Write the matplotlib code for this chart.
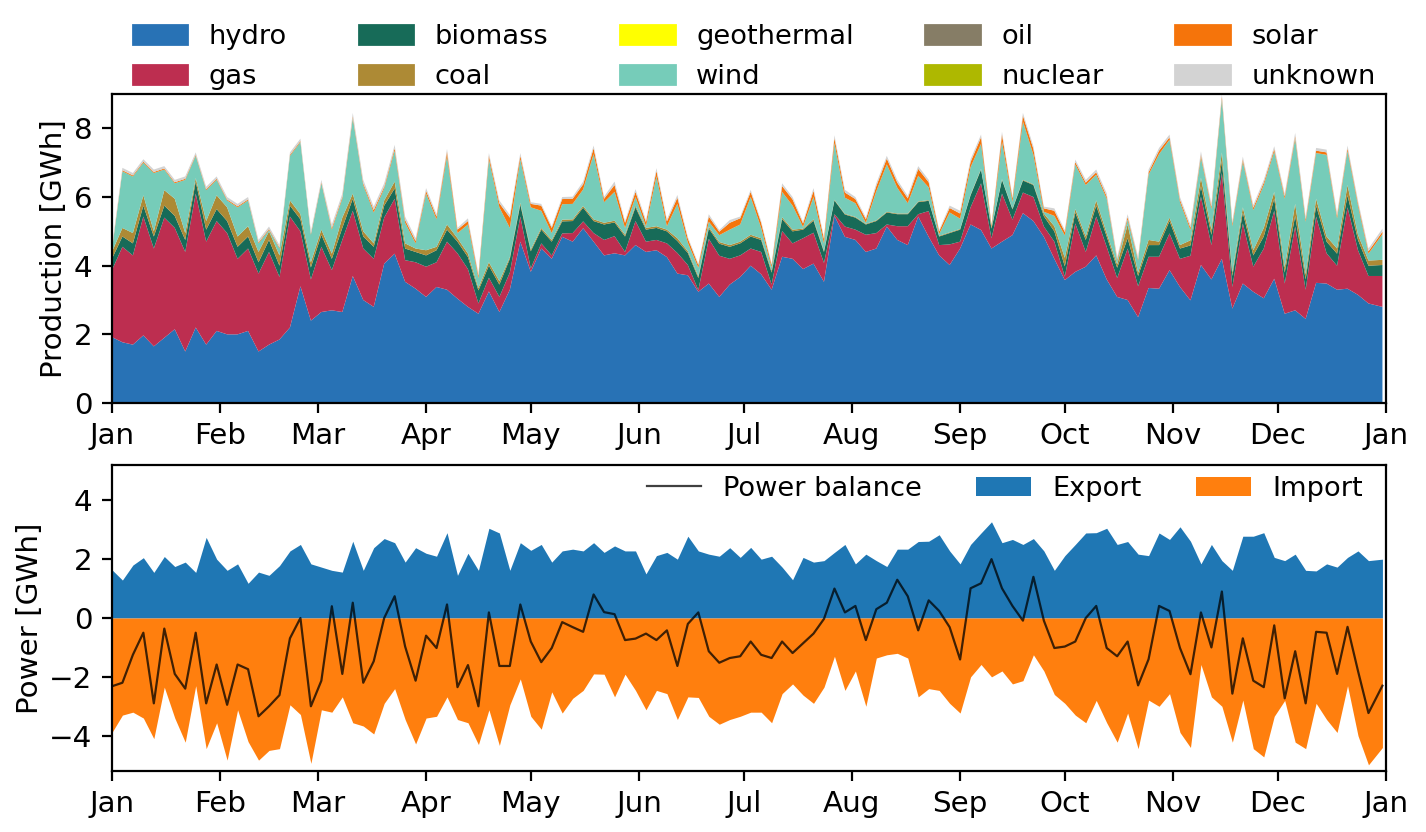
"""Daily electricity production mix and cross-border power balance."""

import datetime as dt
import numpy as np
import matplotlib
matplotlib.use("Agg")
import matplotlib.pyplot as plt
import matplotlib.dates as mdates
from matplotlib.patches import Patch

plt.rcParams.update({
    "font.family": "DejaVu Sans",
    "font.size": 10.6,
    "legend.fontsize": 9.8,
    "axes.linewidth": 0.8,
})

YEAR_START = dt.date(2019, 1, 1)
YEAR_END = dt.date(2020, 1, 1)
# sampled every third day of the year, last sample on 31 Dec
DAY_OFFSETS = list(range(0, 361, 3)) + [364]

# ---- production by source [GWh] ----
HYDRO = [1.92, 1.77, 1.70, 1.97, 1.65, 1.90, 2.15, 1.50, 2.20, 1.70, 2.10, 2.00, 2.00, 2.10, 1.50, 1.70,
         1.85, 2.20, 3.40, 2.40, 2.65, 2.70, 2.65, 3.70, 3.00, 2.80, 4.06, 4.35, 3.53, 3.33, 3.09,
         3.38, 3.30, 3.04, 2.80, 2.60, 3.25, 2.65, 3.30, 4.70, 3.82, 4.50, 4.20, 4.84, 4.70, 5.09,
         4.70, 4.30, 4.36, 4.30, 4.60, 4.40, 4.45, 4.25, 3.77, 3.72, 3.24, 3.48, 3.09, 3.45, 3.67,
         4.00, 3.75, 3.30, 4.26, 4.20, 3.90, 4.06, 3.53, 5.45, 4.84, 4.75, 4.40, 4.50, 5.14, 4.75,
         4.60, 5.43, 4.84, 4.30, 4.02, 4.50, 5.20, 5.04, 4.50, 4.70, 4.89, 5.53, 5.30, 4.84, 4.20, 3.58,
         3.82, 3.97, 4.30, 3.60, 3.09, 3.00, 2.50, 3.35, 3.33, 3.87, 3.38, 2.99, 4.02, 3.60, 4.20,
         2.75, 3.48, 3.24, 3.05, 3.62, 2.60, 2.70, 2.45, 3.50, 3.48, 3.30, 3.33, 3.15, 2.90, 2.80]
GAS = [1.95, 2.78, 2.60, 3.46, 2.85, 3.50, 2.95, 2.90, 3.90, 3.00, 3.20, 2.95, 2.20, 2.40, 2.27, 2.70,
       1.82, 3.23, 1.60, 1.20, 1.90, 1.17, 2.10, 1.90, 1.50, 1.40, 1.34, 1.60, 0.63, 0.77, 0.88,
       0.72, 1.40, 1.32, 1.10, 0.30, 0.40, 0.44, 0.50, 0.73, 0.10, 0.15, 0.10, 0.10, 0.25, 0.20,
       0.25, 0.45, 0.50, 0.10, 0.70, 0.30, 0.30, 0.40, 0.60, 0.30, 0.05, 1.30, 1.20, 0.75, 0.63,
       0.50, 0.65, 0.15, 0.75, 0.45, 0.90, 0.90, 0.55, 0.05, 0.30, 0.30, 0.50, 0.45, 0.06, 0.40,
       0.55, 0.07, 0.75, 0.30, 0.60, 0.20, 0.50, 1.36, 0.30, 1.40, 0.45, 0.60, 0.70, 0.30, 0.50, 0.10,
       1.41, 0.43, 1.13, 0.95, 0.55, 1.50, 0.90, 0.91, 0.93, 1.07, 0.82, 1.30, 1.99, 1.00, 2.50,
       0.63, 1.75, 0.73, 1.45, 1.98, 0.88, 2.44, 0.85, 1.93, 0.88, 0.70, 2.37, 1.30, 0.80, 0.90]
BIOMASS = [0.33, 0.30, 0.35, 0.32, 0.35, 0.35, 0.35, 0.35, 0.35, 0.35, 0.35, 0.35, 0.35, 0.35, 0.33, 0.35,
           0.33, 0.32, 0.35, 0.35, 0.35, 0.33, 0.35, 0.35, 0.35, 0.35, 0.35, 0.30, 0.34, 0.30, 0.33,
           0.35, 0.35, 0.34, 0.35, 0.38, 0.35, 0.36, 0.40, 0.35, 0.50, 0.40, 0.40, 0.35, 0.35, 0.40,
           0.35, 0.45, 0.40, 0.45, 0.40, 0.35, 0.35, 0.35, 0.35, 0.35, 0.35, 0.30, 0.35, 0.35, 0.35,
           0.35, 0.35, 0.35, 0.35, 0.35, 0.25, 0.35, 0.32, 0.40, 0.35, 0.35, 0.30, 0.35, 0.35, 0.35,
           0.35, 0.35, 0.30, 0.25, 0.33, 0.35, 0.35, 0.40, 0.28, 0.40, 0.30, 0.35, 0.35, 0.30, 0.30, 0.30,
           0.32, 0.35, 0.32, 0.30, 0.30, 0.30, 0.30, 0.34, 0.34, 0.36, 0.30, 0.30, 0.30, 0.30, 0.35,
           0.32, 0.32, 0.33, 0.35, 0.35, 0.32, 0.31, 0.30, 0.32, 0.34, 0.35, 0.35, 0.30, 0.30, 0.32]
COAL = [0.20, 0.25, 0.30, 0.30, 0.15, 0.45, 0.50, 0.20, 0.10, 0.25, 0.40, 0.40, 0.30, 0.30, 0.30, 0.25,
        0.30, 0.15, 0.15, 0.15, 0.15, 0.15, 0.30, 0.15, 0.15, 0.10, 0.15, 0.20, 0.15, 0.10, 0.15,
        0.10, 0.15, 0.10, 0.10, 0.07, 0.10, 0.10, 0.05, 0.05, 0.05, 0.05, 0.05, 0.05, 0.05, 0.05,
        0.05, 0.05, 0.05, 0.05, 0.05, 0.05, 0.05, 0.05, 0.08, 0.05, 0.05, 0.05, 0.05, 0.05, 0.05,
        0.05, 0.05, 0.05, 0.05, 0.05, 0.03, 0.04, 0.03, 0.02, 0.02, 0.02, 0.02, 0.02, 0.02, 0.02,
        0.02, 0.02, 0.02, 0.02, 0.02, 0.02, 0.02, 0.02, 0.02, 0.02, 0.02, 0.02, 0.02, 0.08, 0.15, 0.25,
        0.10, 0.10, 0.15, 0.10, 0.10, 0.40, 0.10, 0.15, 0.10, 0.10, 0.10, 0.15, 0.25, 0.15, 0.25,
        0.10, 0.15, 0.15, 0.25, 0.20, 0.15, 0.35, 0.15, 0.20, 0.15, 0.15, 0.30, 0.15, 0.15, 0.15]
WIND = [0.05, 1.65, 1.65, 0.95, 1.70, 0.60, 0.45, 1.55, 0.65, 0.90, 0.45, 0.20, 0.85, 0.75, 0.25, 0.04,
        0.20, 1.30, 2.10, 0.80, 1.35, 0.70, 0.55, 2.20, 1.35, 0.90, 0.35, 0.90, 0.60, 0.15, 1.65,
        0.80, 2.00, 0.15, 0.85, 0.28, 3.00, 2.15, 0.85, 1.27, 1.23, 0.50, 0.20, 0.45, 0.45, 0.48,
        1.90, 0.60, 0.84, 0.20, 0.25, 0.05, 1.45, 0.10, 1.00, 0.25, 0.25, 0.15, 0.20, 0.45, 0.50,
        1.10, 0.30, 0.10, 0.74, 0.70, 0.05, 0.65, 0.22, 1.65, 0.47, 0.40, 0.03, 0.85, 1.38, 0.75,
        0.30, 0.75, 0.37, 0.05, 0.58, 0.30, 0.80, 0.73, 0.00, 1.10, 0.20, 1.70, 0.86, 0.05, 0.30, 0.65,
        1.30, 1.50, 0.75, 1.00, 0.10, 0.15, 0.35, 1.90, 2.55, 2.27, 1.25, 0.30, 0.60, 0.60, 1.55,
        1.35, 1.33, 1.17, 1.25, 1.18, 2.00, 1.90, 1.53, 1.33, 2.38, 0.88, 1.00, 0.85, 0.20, 0.75]
SOLAR = [0.03, 0.03, 0.03, 0.03, 0.03, 0.03, 0.03, 0.03, 0.03, 0.03, 0.03, 0.03, 0.03, 0.03, 0.03, 0.03,
         0.03, 0.03, 0.03, 0.03, 0.03, 0.05, 0.05, 0.05, 0.05, 0.07, 0.05, 0.07, 0.08, 0.07, 0.08,
         0.08, 0.12, 0.10, 0.10, 0.08, 0.10, 0.12, 0.30, 0.10, 0.10, 0.15, 0.15, 0.15, 0.15, 0.15,
         0.17, 0.10, 0.20, 0.15, 0.15, 0.12, 0.16, 0.14, 0.18, 0.12, 0.08, 0.15, 0.10, 0.20, 0.18,
         0.15, 0.15, 0.07, 0.17, 0.18, 0.10, 0.18, 0.13, 0.15, 0.15, 0.12, 0.10, 0.15, 0.17, 0.15,
         0.14, 0.20, 0.15, 0.08, 0.13, 0.15, 0.15, 0.19, 0.07, 0.20, 0.10, 0.17, 0.17, 0.10, 0.15, 0.10,
         0.07, 0.07, 0.07, 0.07, 0.05, 0.07, 0.04, 0.07, 0.10, 0.07, 0.07, 0.07, 0.07, 0.07, 0.07,
         0.07, 0.07, 0.07, 0.07, 0.07, 0.07, 0.07, 0.07, 0.07, 0.07, 0.07, 0.07, 0.07, 0.07, 0.07]
UNKNOWN = [0.07, 0.07, 0.07, 0.07, 0.07, 0.07, 0.07, 0.07, 0.07, 0.07, 0.07, 0.07, 0.07, 0.07, 0.07, 0.07,
           0.07, 0.07, 0.07, 0.07, 0.07, 0.10, 0.10, 0.10, 0.10, 0.10, 0.10, 0.10, 0.10, 0.08, 0.08,
           0.07, 0.08, 0.05, 0.08, 0.06, 0.08, 0.08, 0.08, 0.08, 0.05, 0.05, 0.05, 0.06, 0.06, 0.08,
           0.08, 0.06, 0.10, 0.05, 0.08, 0.06, 0.08, 0.06, 0.08, 0.05, 0.04, 0.07, 0.05, 0.08, 0.05,
           0.06, 0.05, 0.04, 0.08, 0.07, 0.05, 0.08, 0.06, 0.08, 0.08, 0.06, 0.05, 0.08, 0.08, 0.08,
           0.07, 0.08, 0.07, 0.04, 0.07, 0.08, 0.08, 0.08, 0.03, 0.08, 0.05, 0.08, 0.08, 0.05, 0.07, 0.06,
           0.07, 0.08, 0.08, 0.09, 0.07, 0.08, 0.07, 0.08, 0.08, 0.08, 0.08, 0.08, 0.10, 0.08, 0.08,
           0.08, 0.08, 0.08, 0.08, 0.08, 0.08, 0.10, 0.08, 0.08, 0.08, 0.08, 0.08, 0.08, 0.08, 0.09]

# ---- cross-border exchange [GWh] ----
EXPORT = [1.64, 1.29, 1.80, 2.05, 1.55, 2.09, 1.75, 1.90, 1.55, 2.74, 2.00, 1.62, 1.84, 1.18, 1.56, 1.45,
          1.78, 2.28, 2.50, 1.84, 1.73, 1.62, 1.56, 2.61, 1.62, 2.39, 2.70, 2.56, 1.90, 2.39, 2.20,
          2.10, 2.90, 1.45, 2.20, 1.62, 3.05, 2.89, 1.62, 2.56, 2.30, 2.50, 1.90, 2.28, 2.34, 2.28,
          2.56, 2.23, 2.45, 2.28, 2.28, 1.50, 2.12, 2.23, 2.00, 2.78, 2.28, 2.17, 2.10, 2.39, 2.06,
          2.40, 2.00, 2.10, 1.73, 1.30, 2.06, 1.90, 1.95, 2.23, 2.50, 1.84, 2.17, 1.95, 1.75, 2.34,
          2.34, 2.60, 2.61, 2.83, 2.28, 1.84, 2.50, 2.89, 3.27, 2.56, 2.67, 2.50, 2.70, 2.28, 1.62, 2.12,
          2.50, 2.89, 2.90, 3.05, 2.50, 2.60, 2.17, 2.12, 2.89, 2.67, 3.10, 2.61, 1.84, 2.50, 1.95,
          1.62, 2.78, 2.78, 2.90, 2.06, 1.95, 2.17, 1.62, 1.60, 1.84, 1.73, 2.06, 2.28, 1.95, 2.00]
IMPORT = [-3.89, -3.30, -3.20, -3.40, -4.10, -2.35, -3.40, -4.22, -2.30, -4.44, -3.56, -4.83, -3.12, -4.20,
          -4.83, -4.50, -4.44, -2.95, -3.28, -4.94, -3.12, -3.20, -2.68, -3.56, -3.67, -3.94, -2.90,
          -2.40, -3.45, -4.28, -3.40,
          -3.34, -2.68, -3.45, -3.56, -4.30, -3.12, -4.33, -2.95, -2.07, -3.34, -3.78, -2.51, -3.23,
          -2.73, -2.46, -1.90, -1.91, -2.68, -1.91, -2.46, -3.12, -2.46, -2.57, -3.45, -2.68, -2.70,
          -3.34, -3.61, -3.45, -3.34,
          -3.20, -3.20, -3.56, -2.57, -2.24, -2.62, -2.90, -2.35, -1.30, -2.46, -1.80, -3.00, -1.36,
          -1.25, -1.20, -1.36, -2.68, -2.40, -2.46, -2.90, -3.23, -2.00, -1.58, -2.00, -1.80, -2.24,
          -2.13, -1.25, -1.80, -2.60, -2.90,
          -3.30, -3.56, -2.80, -3.56, -4.22, -3.23, -4.44, -2.79, -3.00, -2.57, -3.89, -4.40, -1.58,
          -2.68, -3.00, -4.22, -2.79, -4.44, -4.72, -3.34, -2.80, -4.22, -4.44, -2.90, -3.45, -3.89,
          -2.30, -4.00, -4.99, -4.40]
BALANCE = [-2.32, -2.20, -1.25, -0.50, -2.90, -0.36, -1.90, -2.40, -0.50, -2.90, -1.58, -2.95, -1.58,
           -1.74, -3.34, -3.00, -2.62, -0.69, 0.00, -3.00, -2.13, 0.40, -1.90, 0.52, -2.20, -1.47,
           0.00, 0.74, -0.97, -2.13, -0.60,
           -1.02, 0.46, -2.35, -1.60, -3.00, 0.19, -1.63, -1.63, 0.46, -0.80, -1.50, -1.02, -0.14,
           -0.31, -0.47, 0.80, 0.20, 0.13, -0.75, -0.70, -0.53, -0.75, -0.42, -1.63, -0.20, 0.19,
           -1.13, -1.52, -1.36, -1.30,
           -0.80, -1.25, -1.36, -0.80, -1.19, -0.86, -0.53, -0.03, 1.00, 0.19, 0.41, -0.75, 0.30,
           0.52, 1.30, 0.74, -0.42, 0.60, 0.24, -0.31, -1.41, 1.01, 1.18, 2.00, 1.01, 0.41, -0.09,
           1.40, -0.09, -1.02, -0.97,
           -0.80, 0.00, 0.41, -1.02, -1.30, -0.80, -2.29, -1.40, 0.41, 0.24, -1.02, -1.91, 0.19,
           -1.00, 0.90, -2.57, -0.69, -2.13, -2.35, -0.25, -2.73, -1.13, -2.90, -0.47, -0.50, -1.90,
           -0.30, -1.80, -3.23, -2.30]

SOURCES = ["hydro", "gas", "biomass", "coal", "geothermal",
           "wind", "oil", "nuclear", "solar", "unknown"]
COLORS = {
    "hydro": "#2872b5", "gas": "#bd2e50", "biomass": "#176b58", "coal": "#ad8a35",
    "geothermal": "#ffff00", "wind": "#76ccb9", "oil": "#867d66", "nuclear": "#aeb800",
    "solar": "#f5740b", "unknown": "#d3d3d3",
}


def plot():
    dates = mdates.date2num([YEAR_START + dt.timedelta(days=d) for d in DAY_OFFSETS])
    x0, x1 = mdates.date2num([YEAR_START, YEAR_END])

    fig = plt.figure(figsize=(7.13, 4.16), dpi=200)
    ax1 = fig.add_axes([0.0785, 0.5156, 0.8934, 0.3714])
    ax2 = fig.add_axes([0.0785, 0.0733, 0.8934, 0.3678])

    # geothermal, oil and nuclear are zero all year -> only in the legend
    layers = [("hydro", HYDRO), ("gas", GAS), ("biomass", BIOMASS), ("coal", COAL),
              ("wind", WIND), ("solar", SOLAR), ("unknown", UNKNOWN)]
    polys = ax1.stackplot(dates, *[np.array(v) for _, v in layers],
                          colors=[COLORS[n] for n, _ in layers], linewidth=0.6)
    polys[-1].set_linewidth(1.3)  # grey "unknown" rim on top of the stack
    handles = [Patch(facecolor=COLORS[s], edgecolor=COLORS[s]) for s in SOURCES]
    ax1.legend(handles, SOURCES, loc="lower left", bbox_to_anchor=(0.0078, 0.979, 0.993, 0.1),
               mode="expand", ncol=5, frameon=False, borderaxespad=0)
    ax1.set_ylim(0, 9)
    ax1.set_yticks([0, 2, 4, 6, 8])
    ax1.set_ylabel("Production [GWh]", labelpad=2)

    ax2.fill_between(dates, 0, EXPORT, color="#1f77b4", lw=0, label="Export")
    ax2.fill_between(dates, IMPORT, 0, color="#ff7f0e", lw=0, label="Import")
    ax2.plot(dates, BALANCE, color="black", alpha=0.75, lw=0.8, label="Power balance")
    h, l = ax2.get_legend_handles_labels()
    order = [2, 0, 1]
    ax2.legend([h[i] for i in order], [l[i] for i in order], loc="upper right",
               bbox_to_anchor=(0.9906, 1.0), borderaxespad=0, ncol=3, frameon=False)
    ax2.set_ylim(-5.2, 5.2)
    ax2.set_yticks([-4, -2, 0, 2, 4])
    ax2.set_ylabel("Power [GWh]", labelpad=2)

    for ax in (ax1, ax2):
        ax.set_xlim(x0, x1)
        ax.xaxis.set_major_locator(mdates.MonthLocator())
        ax.xaxis.set_major_formatter(mdates.DateFormatter("%b"))

    fig.savefig("out.png", dpi=200)
    plt.close(fig)


if __name__ == "__main__":
    plot()
